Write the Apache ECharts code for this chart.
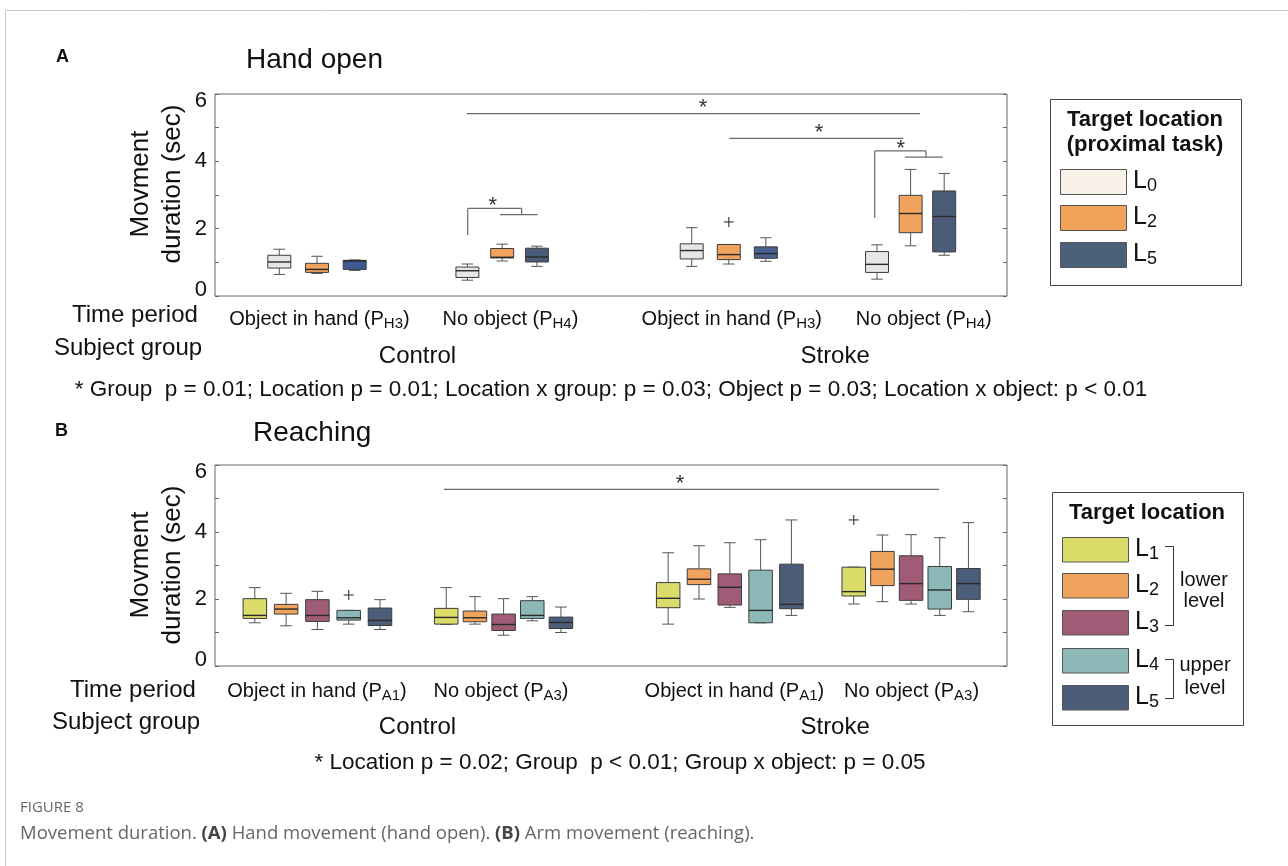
<!DOCTYPE html>
<html><head><meta charset="utf-8">
<script src="https://cdn.jsdelivr.net/npm/echarts@6/dist/echarts.min.js"></script>
<style>html,body{margin:0;padding:0;background:#fff}#c{width:1288px;height:866px}</style>
</head><body><div id="c"></div>
<script>
// ================= DATA =================
// Panel A: Hand open. Box stats per group: [min, Q1, median, Q3, max]
const periodsA = ['Object in hand', 'No object', 'Object in hand', 'No object'];
const periodCodesA = ['H3', 'H4', 'H3', 'H4'];
const subjectGroups = ['Control', 'Stroke'];
const locationsA = ['0', '2', '5'];
const A_L0 = [[0.64, 0.83, 1.01, 1.21, 1.39], [0.47, 0.55, 0.75, 0.86, 0.95], [0.88, 1.10, 1.35, 1.55, 2.03], [0.50, 0.70, 0.94, 1.32, 1.52]];
const A_L2 = [[0.67, 0.70, 0.79, 0.97, 1.18], [1.04, 1.13, 1.15, 1.41, 1.54], [0.95, 1.08, 1.23, 1.53, 1.53], [1.49, 1.88, 2.45, 2.99, 3.76]];
const A_L5 = [[0.76, 0.79, 1.04, 1.06, 1.07], [0.88, 1.01, 1.16, 1.42, 1.48], [1.03, 1.12, 1.26, 1.46, 1.73], [1.21, 1.31, 2.36, 3.12, 3.64]];
const outliersA = [[2, 1, 2.20]];            // [group, location, value]
const statsA = '* Group  p = 0.01; Location p = 0.01; Location x group: p = 0.03; Object p = 0.03; Location x object: p < 0.01';

// Panel B: Reaching
const periodsB = ['Object in hand', 'No object', 'Object in hand', 'No object'];
const periodCodesB = ['A1', 'A3', 'A1', 'A3'];
const locationsB = ['1', '2', '3', '4', '5'];
const B_L1 = [[1.29, 1.42, 1.51, 2.01, 2.34], [1.24, 1.25, 1.45, 1.72, 2.34], [1.25, 1.74, 2.02, 2.49, 3.38], [1.85, 2.09, 2.22, 2.95, 2.95]];
const B_L2 = [[1.20, 1.55, 1.70, 1.84, 2.17], [1.25, 1.32, 1.44, 1.64, 2.07], [2.00, 2.43, 2.59, 2.90, 3.59], [1.92, 2.40, 2.89, 3.42, 3.91]];
const B_L3 = [[1.09, 1.33, 1.51, 1.98, 2.23], [0.92, 1.06, 1.24, 1.55, 2.01], [1.75, 1.82, 2.35, 2.75, 3.68], [1.85, 1.96, 2.46, 3.29, 3.92]];
const B_L4 = [[1.25, 1.37, 1.44, 1.66, 1.66], [1.35, 1.42, 1.51, 1.95, 2.07], [1.29, 1.29, 1.66, 2.86, 3.77], [1.51, 1.70, 2.27, 2.97, 3.83]];
const B_L5 = [[1.09, 1.21, 1.36, 1.73, 1.98], [1.00, 1.12, 1.30, 1.46, 1.76], [1.51, 1.71, 1.84, 3.04, 4.36], [1.62, 1.99, 2.46, 2.91, 4.28]];
const outliersB = [[0, 3, 2.12], [3, 0, 4.36]];
const statsB = '* Location p = 0.02; Group  p < 0.01; Group x object: p = 0.05';

// significance annotations (x in % of plot width, y in seconds)
const sigSegA = [
  [31.78, 5.42, 89.02, 5.42],
  [64.94, 4.68, 86.91, 4.68],
  [83.30, 2.32, 83.30, 4.31], [83.30, 4.31, 89.77, 4.31], [89.77, 4.31, 89.77, 4.125], [87.12, 4.125, 91.88, 4.125],
  [31.91, 1.81, 31.91, 2.60], [31.91, 2.60, 38.72, 2.60], [38.72, 2.60, 38.72, 2.42], [35.98, 2.42, 40.74, 2.42]
];
const sigStarA = [[61.62, 5.71], [76.26, 4.97], [86.58, 4.49], [35.06, 2.80]];
const sigSegB = [[28.91, 5.27, 91.41, 5.27]];
const sigStarB = [[58.71, 5.55]];

const yLabelValues = [0, 2, 4, 6];

// ================= LAYOUT / STYLE =================
const F = '"Liberation Sans", Arial, Helvetica, sans-serif';
const CAP_F = '"Open Sans", Lato, sans-serif';
const LAYOUT = {
  A: {
    grid: {left: 215, top: 94, width: 792, height: 202},
    groupCenter: [12.88, 36.26, 64.87, 87.83], spacing: [4.76, 4.39, 4.68, 4.24], boxW: 2.9,
    labelX: [13.19, 37.3, 65.25, 89.49], subjX: [25.57, 78.3], periodDy: 23, subjDy: 60
  },
  B: {
    grid: {left: 215, top: 465, width: 792, height: 201},
    groupCenter: [12.93, 36.44, 65.0, 87.89], spacing: [3.95, 3.62, 3.89, 3.62], boxW: 2.97,
    labelX: [12.88, 36.11, 65.58, 87.95], subjX: [25.57, 78.3], periodDy: 25, subjDy: 61
  }
};
const COLORS_A = ['#e6e6e6', '#f0a35c', '#4a5c78'];
const COLOR_OVERRIDE_A = {'0-2': '#3f5a92', '2-2': '#4a6090'};
const COLORS_B = ['#dcdc6a', '#f0a35c', '#a05c76', '#8cb9b8', '#4b5d78'];
const LEGEND_A = ['#f8f1e8', '#f0a35a', '#4d6079'];

// ================= BUILD =================
function boxSeries(key, gi, li, nLoc, stats, color, override) {
  const L = LAYOUT[key];
  const data = stats.map((s, g) => [L.groupCenter[g] + (li - (nLoc - 1) / 2) * L.spacing[g]].concat(s, [g]));
  return {
    type: 'custom', name: 'L' + li, xAxisIndex: gi, yAxisIndex: gi * 2, data, z: 3,
    renderItem: (params, api) => {
      const x = api.value(0);
      const P = [1, 2, 3, 4, 5].map(i => api.coord([x, api.value(i)]));
      const g = api.value(6);
      const w = api.size([L.boxW, 0])[0];
      const cx = P[0][0];
      const [yMin, yQ1, yMed, yQ3, yMax] = P.map(p => p[1]);
      const fill = (override && override[g + '-' + li]) || color;
      const ws = {stroke: '#555', lineWidth: 1};
      return {type: 'group', children: [
        {type: 'line', shape: {x1: cx, y1: yQ3, x2: cx, y2: yMax}, style: ws},
        {type: 'line', shape: {x1: cx, y1: yQ1, x2: cx, y2: yMin}, style: ws},
        {type: 'line', shape: {x1: cx - w / 4, y1: yMax, x2: cx + w / 4, y2: yMax}, style: ws},
        {type: 'line', shape: {x1: cx - w / 4, y1: yMin, x2: cx + w / 4, y2: yMin}, style: ws},
        {type: 'rect', shape: {x: cx - w / 2, y: yQ3, width: w, height: yQ1 - yQ3}, style: {fill, stroke: '#3c3c3c', lineWidth: 1}},
        {type: 'line', shape: {x1: cx - w / 2, y1: yMed, x2: cx + w / 2, y2: yMed}, style: {stroke: '#2a2a2a', lineWidth: 1.4}}
      ]};
    }
  };
}
function outlierSeries(key, gi, nLoc, outs) {
  const L = LAYOUT[key];
  const data = outs.map(o => [L.groupCenter[o[0]] + (o[1] - (nLoc - 1) / 2) * L.spacing[o[0]], o[2]]);
  return {
    type: 'custom', xAxisIndex: gi, yAxisIndex: gi * 2, data, z: 4,
    renderItem: (params, api) => {
      const c = api.coord([api.value(0), api.value(1)]);
      const s = 5;
      return {type: 'group', children: [
        {type: 'line', shape: {x1: c[0] - s, y1: c[1], x2: c[0] + s, y2: c[1]}, style: {stroke: '#444', lineWidth: 1.2}},
        {type: 'line', shape: {x1: c[0], y1: c[1] - s, x2: c[0], y2: c[1] + s}, style: {stroke: '#444', lineWidth: 1.2}}
      ]};
    }
  };
}
function sigSeries(gi, segs, stars) {
  return [{
    type: 'custom', xAxisIndex: gi, yAxisIndex: gi * 2, data: segs, z: 2,
    renderItem: (params, api) => {
      const a = api.coord([api.value(0), api.value(1)]);
      const b = api.coord([api.value(2), api.value(3)]);
      return {type: 'line', shape: {x1: a[0], y1: a[1], x2: b[0], y2: b[1]}, style: {stroke: '#6a6a6a', lineWidth: 1.2}};
    }
  }, {
    type: 'custom', xAxisIndex: gi, yAxisIndex: gi * 2, data: stars, z: 2,
    renderItem: (params, api) => {
      const c = api.coord([api.value(0), api.value(1)]);
      return {type: 'text', x: c[0], y: c[1] + 4, style: {text: '*', fontSize: 22, fontFamily: F, fill: '#333',
        align: 'center', textAlign: 'center', verticalAlign: 'middle', textVerticalAlign: 'middle'}};
    }
  }];
}
function labelSeries(key, gi, periods, codes) {
  const L = LAYOUT[key];
  const items = L.labelX.map((x, i) => [x, i, 0]).concat(L.subjX.map((x, i) => [x, i, 1]));
  return {
    type: 'custom', xAxisIndex: gi, yAxisIndex: gi * 2, data: items, z: 5,
    renderItem: (params, api) => {
      const c = api.coord([api.value(0), 0]);
      const i = api.value(1), kind = api.value(2);
      let style;
      if (kind === 0) {
        style = {text: '{n|' + periods[i] + ' (P}{s|' + codes[i] + '}{n|)}', rich: {
          n: {fontSize: 20, fontFamily: F, fill: '#111', color: '#111', lineHeight: 24},
          s: {fontSize: 15, fontFamily: F, fill: '#111', color: '#111', lineHeight: 15, verticalAlign: 'bottom'}
        }};
        return {type: 'text', x: c[0], y: c[1] + L.periodDy, style: Object.assign(style, {align: 'center', textAlign: 'center', verticalAlign: 'middle', textVerticalAlign: 'middle'})};
      }
      style = {text: subjectGroups[i], fontSize: 24, fontFamily: F, fill: '#111'};
      return {type: 'text', x: c[0], y: c[1] + L.subjDy, style: Object.assign(style, {align: 'center', textAlign: 'center', verticalAlign: 'middle', textVerticalAlign: 'middle'})};
    }
  };
}
function yAxes(gi) {
  const common = {type: 'value', gridIndex: gi, min: 0, max: 6, interval: 1, splitLine: {show: false},
    axisLine: {show: false}, axisTick: {show: true, inside: true, length: 4, lineStyle: {color: '#666'}}};
  return [
    Object.assign({}, common, {position: 'left', axisLabel: {show: true, margin: 8, fontSize: 22, fontFamily: F, color: '#111',
      formatter: v => yLabelValues.indexOf(v) < 0 ? '' : (v === 6 ? '{t|6}' : v === 0 ? '{b|0}' : String(v)),
      rich: {t: {fontSize: 22, fontFamily: F, color: '#111', padding: [14, 0, 0, 0]}, b: {fontSize: 22, fontFamily: F, color: '#111', padding: [0, 0, 12, 0]}}}}),
    Object.assign({}, common, {position: 'right', axisLabel: {show: false}})
  ];
}
function xAxis(gi) {
  return {type: 'value', gridIndex: gi, min: 0, max: 100, show: true, axisLine: {show: false}, axisTick: {show: false}, axisLabel: {show: false}, splitLine: {show: false}};
}
function txt(x, y, text, size, opts) {
  return {type: 'text', x, y, silent: true, style: Object.assign({text, fontSize: size, fontFamily: F, fill: '#111',
    align: 'left', textAlign: 'left', verticalAlign: 'middle', textVerticalAlign: 'middle'}, opts || {})};
}
function lsub(x, y, sub) {
  return txt(x, y, '{L|L}{s|' + sub + '}', 24, {rich: {
    L: {fontSize: 25, fontFamily: F, fill: '#111', color: '#111', lineHeight: 28},
    s: {fontSize: 18, fontFamily: F, fill: '#111', color: '#111', lineHeight: 18, verticalAlign: 'bottom'}}});
}

const series = [];
[A_L0, A_L2, A_L5].forEach((st, li) => series.push(boxSeries('A', 0, li, 3, st, COLORS_A[li], COLOR_OVERRIDE_A)));
series.push(outlierSeries('A', 0, 3, outliersA));
series.push(...sigSeries(0, sigSegA, sigStarA));
series.push(labelSeries('A', 0, periodsA, periodCodesA));
[B_L1, B_L2, B_L3, B_L4, B_L5].forEach((st, li) => series.push(boxSeries('B', 1, li, 5, st, COLORS_B[li])));
series.push(outlierSeries('B', 1, 5, outliersB));
series.push(...sigSeries(1, sigSegB, sigStarB));
series.push(labelSeries('B', 1, periodsB, periodCodesB));

const graphic = [
  {type: 'line', silent: true, shape: {x1: 5, y1: 10.5, x2: 1288, y2: 10.5}, style: {stroke: '#c8c8c8', lineWidth: 1}},
  {type: 'line', silent: true, shape: {x1: 5.5, y1: 10, x2: 5.5, y2: 866}, style: {stroke: '#c8c8c8', lineWidth: 1}},
  // Panel A texts
  txt(56, 57, 'A', 18, {fontWeight: 'bold'}),
  txt(246, 60, 'Hand open', 28),
  txt(157, 184, 'Movment\nduration (sec)', 26, {align: 'center', textAlign: 'center', lineHeight: 32}),
  txt(72, 315, 'Time period', 24),
  txt(54, 348, 'Subject group', 24),
  txt(611, 390, statsA, 22.5, {align: 'center', textAlign: 'center'}),
  // Panel B texts
  txt(55, 431, 'B', 18, {fontWeight: 'bold'}),
  txt(253, 433, 'Reaching', 28),
  txt(157, 565, 'Movment\nduration (sec)', 26, {align: 'center', textAlign: 'center', lineHeight: 32}),
  txt(70, 690, 'Time period', 24),
  txt(52, 722, 'Subject group', 24),
  txt(620, 763, statsB, 22.5, {align: 'center', textAlign: 'center'}),
  // Legend A
  {type: 'rect', silent: true, shape: {x: 1050.5, y: 99.5, width: 191, height: 186}, style: {fill: '#fff', stroke: '#444', lineWidth: 1}},
  txt(1145, 120, 'Target location', 22, {fontWeight: 'bold', align: 'center', textAlign: 'center'}),
  txt(1145, 145, '(proximal task)', 22, {fontWeight: 'bold', align: 'center', textAlign: 'center'}),
  // Legend B
  {type: 'rect', silent: true, shape: {x: 1052.5, y: 492.5, width: 191, height: 233}, style: {fill: '#fff', stroke: '#444', lineWidth: 1}},
  txt(1147, 513, 'Target location', 22, {fontWeight: 'bold', align: 'center', textAlign: 'center'}),
  {type: 'polyline', silent: true, shape: {points: [[1165, 546.5], [1173.5, 546.5], [1173.5, 625.5], [1165, 625.5]]}, style: {fill: 'none', stroke: '#333', lineWidth: 1}},
  {type: 'polyline', silent: true, shape: {points: [[1165, 659.5], [1173.5, 659.5], [1173.5, 698.5], [1165, 698.5]]}, style: {fill: 'none', stroke: '#333', lineWidth: 1}},
  txt(1204, 580, 'lower', 20, {align: 'center', textAlign: 'center'}),
  txt(1204, 601, 'level', 20, {align: 'center', textAlign: 'center'}),
  txt(1205, 665, 'upper', 20, {align: 'center', textAlign: 'center'}),
  txt(1205, 688, 'level', 20, {align: 'center', textAlign: 'center'}),
  // caption
  txt(20, 808, 'FIGURE 8', 15, {fill: '#666', fontFamily: CAP_F}),
  txt(20, 834, '{n|Movement duration. }{b|(A)}{n| Hand movement (hand open). }{b|(B)}{n| Arm movement (reaching).}', 18.5, {rich: {
    n: {fontSize: 18.5, fontFamily: CAP_F, fill: '#666', color: '#666'},
    b: {fontSize: 18.5, fontFamily: CAP_F, fill: '#444', color: '#444', fontWeight: 'bold'}}})
];
// rotate the axis names
graphic[4].rotation = Math.PI / 2; graphic[10].rotation = Math.PI / 2;
// legend swatches
const swA = [169, 205, 242];
locationsA.forEach((l, i) => {
  graphic.push({type: 'rect', silent: true, shape: {x: 1060.5, y: swA[i] + 0.5, width: 66, height: 25}, style: {fill: LEGEND_A[i], stroke: '#555', lineWidth: 1}});
  graphic.push(lsub(1133, swA[i] + 12, l));
});
const swB = [537, 573, 610, 648, 685];
locationsB.forEach((l, i) => {
  graphic.push({type: 'rect', silent: true, shape: {x: 1062.5, y: swB[i] + 0.5, width: 66, height: 24.5}, style: {fill: COLORS_B[i], stroke: '#555', lineWidth: 1}});
  graphic.push(lsub(1135, swB[i] + 12, l));
});

const chart = echarts.init(document.getElementById('c'));
chart.setOption({
  animation: false,
  backgroundColor: '#fff',
  grid: [
    Object.assign({show: true, borderColor: '#666', borderWidth: 1, backgroundColor: 'transparent'}, LAYOUT.A.grid),
    Object.assign({show: true, borderColor: '#666', borderWidth: 1, backgroundColor: 'transparent'}, LAYOUT.B.grid)
  ],
  xAxis: [xAxis(0), xAxis(1)],
  yAxis: yAxes(0).concat(yAxes(1)),
  series,
  graphic
});
</script></body></html>
